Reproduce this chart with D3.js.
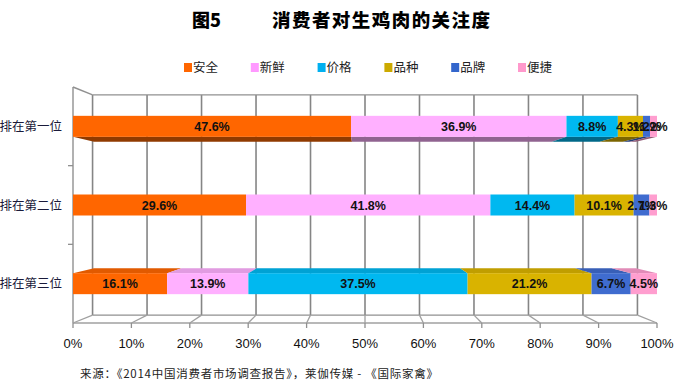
<!DOCTYPE html>
<html>
<head>
<meta charset="utf-8">
<script src="https://d3js.org/d3.v7.min.js"></script>
<style>
  body { margin: 0; background: #fff; }
  svg { font-family: "Liberation Sans", Arial, sans-serif; }
  .cjk { font-family: "Noto Sans CJK SC", sans-serif; }
</style>
</head>
<body>
<div id="chart"></div>
<script>
// ---------- data ----------
var categories = ["排在第一位", "排在第二位", "排在第三位"];
var seriesNames = ["安全", "新鲜", "价格", "品种", "品牌", "便捷"];
var seriesColors = ["#FF6600", "#FFB0FF", "#00B8F0", "#D9B300", "#3F6CCF", "#FF9ECF"];
var legendColors = ["#FF6600", "#FF99FF", "#00B0F0", "#CCAA00", "#3366CC", "#FF99CC"];
// percentages per row, in series order
var rowValues = [
  [47.6, 36.9, 8.8, 4.3, 1.2, 1.2],
  [29.6, 41.8, 14.4, 10.1, 2.7, 1.3],
  [16.1, 13.9, 37.5, 21.2, 6.7, 4.5]
];
var tickValues = [0, 0.1, 0.2, 0.3, 0.4, 0.5, 0.6, 0.7, 0.8, 0.9, 1];
var title1 = "图5", title2 = "消费者对生鸡肉的关注度";
var sourceText = "来源：《2014中国消费者市场调查报告》，莱伽传媒 - 《国际家禽》";

// ---------- setup ----------
var W = 675, H = 386;
var pLeft = 73, pRight = 657, pTop = 87, pBottom = 323;

var x = d3.scaleLinear().domain([0, 1]).range([pLeft, pRight]);
var y = d3.scaleBand().domain(categories).range([pTop, pBottom]);
var barH = 21;

// simple perspective: things further back shrink toward the centre
var cx = (pLeft + pRight) / 2, cy = (pTop + pBottom) / 2;
var backScale = 0.933, barBack = 0.928;
function proj(px, py, s) { return [cx + s * (px - cx), cy + s * (py - cy)]; }

var svg = d3.select("#chart").append("svg")
  .attr("width", W).attr("height", H);

// titles
svg.append("text").attr("class", "cjk")
  .attr("x", 192).attr("y", 27)
  .style("font-size", "18px").style("font-weight", 900)
  .text(title1);
svg.append("text").attr("class", "cjk")
  .attr("x", 272).attr("y", 27)
  .style("font-size", "18.5px").style("font-weight", 900)
  .attr("textLength", 218)
  .text(title2);

// legend
var legend = svg.append("g").selectAll("g")
  .data(seriesNames).enter().append("g")
  .attr("transform", function(d, i) { return "translate(" + (184 + i * 66.8) + ",62)"; });
legend.append("rect").attr("width", 8).attr("height", 9).attr("y", 1)
  .style("fill", function(d, i) { return legendColors[i]; });
legend.append("text").attr("class", "cjk")
  .attr("x", 9).attr("y", 9.5)
  .style("font-size", "12.5px").style("fill", "#222")
  .text(function(d) { return d; });

// ---------- 3D frame ----------
var grid = svg.append("g");
var bTop = proj(pLeft, pTop, backScale), bBot = proj(pLeft, pBottom, backScale);

// back wall vertical grid lines
tickValues.forEach(function(t) {
  var p1 = proj(x(t), pTop, backScale), p2 = proj(x(t), pBottom, backScale);
  grid.append("line")
    .attr("x1", p1[0]).attr("y1", p1[1]).attr("x2", p2[0]).attr("y2", p2[1])
    .style("stroke", "#858585").style("stroke-width", 1.6);
});
// back wall top and bottom
var pr = proj(pRight, pTop, backScale), prb = proj(pRight, pBottom, backScale);
grid.append("line").attr("x1", bTop[0]).attr("y1", bTop[1]).attr("x2", pr[0]).attr("y2", pr[1])
  .style("stroke", "#909090").style("stroke-width", 1.4);
grid.append("line").attr("x1", bBot[0]).attr("y1", bBot[1]).attr("x2", prb[0]).attr("y2", prb[1])
  .style("stroke", "#909090").style("stroke-width", 1.4);
// left wall
grid.append("line").attr("x1", pLeft).attr("y1", pTop).attr("x2", bTop[0]).attr("y2", bTop[1])
  .style("stroke", "#909090").style("stroke-width", 1.4);
grid.append("line").attr("x1", pLeft).attr("y1", pTop).attr("x2", pLeft).attr("y2", pBottom)
  .style("stroke", "#909090").style("stroke-width", 1.4);
// floor diagonals
tickValues.forEach(function(t) {
  var p = proj(x(t), pBottom, backScale);
  grid.append("line")
    .attr("x1", x(t)).attr("y1", pBottom).attr("x2", p[0]).attr("y2", p[1])
    .style("stroke", "#a0a0a0").style("stroke-width", 1.3);
});

// ---------- bars ----------
var stacks = rowValues.map(function(vals, r) {
  var sum = d3.sum(vals), acc = 0;
  return vals.map(function(v, i) {
    var s = { row: r, i: i, value: v, x0: acc / sum, x1: (acc + v) / sum };
    acc += v;
    return s;
  });
});
var segs = d3.merge(stacks);

function barTop(d) { return y(categories[d.row]) + (y.bandwidth() - barH) / 2; }

var bars = svg.append("g");
// top / bottom faces
bars.selectAll("path.face").data(segs).enter().append("path")
  .attr("class", "face")
  .attr("d", function(d) {
    var yt = barTop(d), yb = yt + barH, edge;
    if (yb < cy) edge = yb;          // above eye: bottom face shows
    else if (yt > cy) edge = yt;     // below eye: top face shows
    else return null;
    var a = [x(d.x0), edge], b = [x(d.x1), edge];
    var c = proj(x(d.x1), edge, barBack), e = proj(x(d.x0), edge, barBack);
    return "M" + [a, b, c, e].map(function(p) { return p.join(","); }).join("L") + "Z";
  })
  .style("fill", function(d) {
    var yt = barTop(d);
    return yt + barH < cy ? d3.color(seriesColors[d.i]).darker(1.6) : d3.color(seriesColors[d.i]).darker(0.35);
  });
// front faces
bars.selectAll("rect").data(segs).enter().append("rect")
  .attr("x", function(d) { return x(d.x0); })
  .attr("width", function(d) { return x(d.x1) - x(d.x0); })
  .attr("y", barTop)
  .attr("height", barH)
  .style("fill", function(d) { return seriesColors[d.i]; });

// value labels
bars.selectAll("text").data(segs).enter().append("text")
  .attr("x", function(d) { return (x(d.x0) + x(d.x1)) / 2; })
  .attr("y", function(d) { return barTop(d) + barH / 2 + 4.5; })
  .attr("text-anchor", "middle")
  .style("font-size", "12.5px").style("font-weight", "bold").style("fill", "#111")
  .text(function(d) { return d3.format(".1f")(d.value) + "%"; });

// ---------- axes ----------
var ax = svg.append("g");
ax.append("line").attr("x1", pLeft).attr("y1", pBottom).attr("x2", pRight).attr("y2", pBottom)
  .style("stroke", "#a0a0a0").style("stroke-width", 1.4);
ax.selectAll("line.tick").data(tickValues).enter().append("line")
  .attr("x1", x).attr("x2", x).attr("y1", pBottom).attr("y2", pBottom + 5)
  .style("stroke", "#909090").style("stroke-width", 1.3);
ax.selectAll("text").data(tickValues).enter().append("text")
  .attr("x", x).attr("y", 348)
  .attr("text-anchor", "middle")
  .style("font-size", "13px").style("fill", "#111")
  .text(d3.format(".0%"));

// category ticks on the left edge
ax.selectAll("line.cat").data(categories.slice(1)).enter().append("line")
  .attr("x1", pLeft - 5).attr("x2", pLeft)
  .attr("y1", function(d) { return y(d); }).attr("y2", function(d) { return y(d); })
  .style("stroke", "#909090").style("stroke-width", 1.3);
ax.selectAll("text.cat").data(categories).enter().append("text")
  .attr("class", "cjk")
  .attr("x", 62).attr("y", function(d) { return y(d) + y.bandwidth() / 2 + 4.5; })
  .attr("text-anchor", "end")
  .style("font-size", "12.5px").style("fill", "#1a1a3a")
  .text(function(d) { return d; });

// source
svg.append("text").attr("class", "cjk")
  .attr("x", 80).attr("y", 378)
  .style("font-size", "11.5px").style("fill", "#222")
  .attr("textLength", 358)
  .text(sourceText);
</script>
</body>
</html>
